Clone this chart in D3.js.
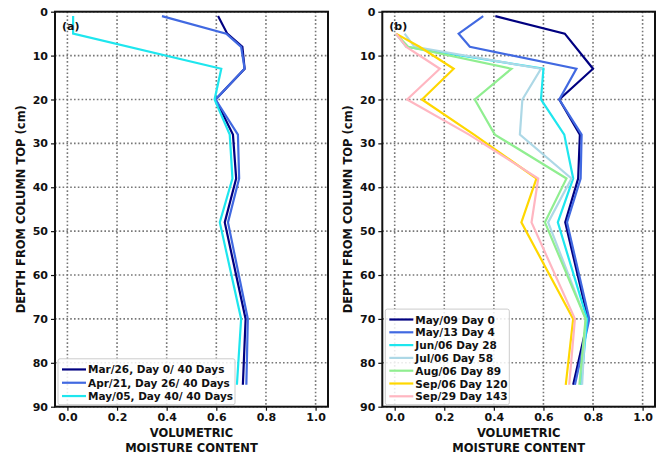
<!DOCTYPE html>
<html><head><meta charset="utf-8">
<script src="https://cdn.jsdelivr.net/npm/d3@7"></script>
<style>
body{margin:0;background:#fff}
text{font-family:"DejaVu Sans",sans-serif;font-weight:bold;fill:#111}
</style>
</head><body>
<svg id="c" width="662" height="456"></svg>
<script>
// ---------- data ----------
const xTicks = [0.0, 0.2, 0.4, 0.6, 0.8, 1.0];
const yTicks = [0, 10, 20, 30, 40, 50, 60, 70, 80, 90];

// Panel (a)
const aNames  = ["Mar/26, Day 0/ 40 Days", "Apr/21, Day 26/ 40 Days", "May/05, Day 40/ 40 Days"];
const aColors = ["#000080", "#4169e1", "#1ee6ee"];
const aDepth0 = [1, 5, 8, 13, 20, 28, 38, 48, 70, 85];
const aMoist0 = [0.607, 0.644, 0.705, 0.714, 0.597, 0.667, 0.680, 0.634, 0.718, 0.707];
const aDepth1 = [1, 5, 8, 13, 20, 28, 38, 48, 70, 85];
const aMoist1 = [0.381, 0.640, 0.700, 0.714, 0.597, 0.687, 0.692, 0.647, 0.727, 0.721];
const aDepth2 = [1, 5, 13, 20, 28, 38, 48, 70, 85];
const aMoist2 = [0.023, 0.023, 0.620, 0.593, 0.654, 0.665, 0.614, 0.700, 0.683];

// Panel (b)
const bNames  = ["May/09 Day 0", "May/13 Day 4", "Jun/06 Day 28", "Jul/06 Day 58", "Aug/06 Day 89", "Sep/06 Day 120", "Sep/29 Day 143"];
const bColors = ["#000080", "#4169e1", "#1ee6ee", "#add8e6", "#90ee90", "#ffd700", "#ffb6c1"];
const bDepth0 = [1, 5, 13, 20, 28, 38, 48, 70, 85];
const bMoist0 = [0.406, 0.686, 0.800, 0.664, 0.747, 0.740, 0.688, 0.780, 0.720];
const bDepth1 = [1, 5, 8, 13, 20, 28, 38, 48, 70, 85];
const bMoist1 = [0.357, 0.258, 0.303, 0.733, 0.664, 0.754, 0.750, 0.695, 0.785, 0.727];
const bDepth2 = [5, 8, 13, 20, 28, 38, 48, 70, 85];
const bMoist2 = [0.005, 0.047, 0.600, 0.590, 0.684, 0.720, 0.658, 0.776, 0.752];
const bDepth3 = [5, 8, 13, 20, 28, 38, 48, 70, 85];
const bMoist3 = [0.040, 0.080, 0.590, 0.515, 0.505, 0.713, 0.619, 0.770, 0.756];
const bDepth4 = [5, 8, 13, 20, 28, 38, 48, 70, 85];
const bMoist4 = [0.005, 0.054, 0.471, 0.323, 0.404, 0.693, 0.606, 0.770, 0.745];
const bDepth5 = [5, 8, 13, 20, 28, 38, 48, 70, 85];
const bMoist5 = [0.005, 0.100, 0.238, 0.110, 0.320, 0.572, 0.511, 0.720, 0.690];
const bDepth6 = [5, 8, 13, 20, 28, 38, 48, 70, 85];
const bMoist6 = [0.005, 0.047, 0.182, 0.050, 0.300, 0.579, 0.552, 0.727, 0.704];

const xDomain = [-0.05, 1.05];
const yDomain = [0, 90];

// ---------- drawing ----------
const svg = d3.select("#c");

function panel(opt) {
  const {left, right, top, bottom, tag, names, colors, depths, moists, ylabX, legW} = opt;
  const g = svg.append("g");
  const x = d3.scaleLinear().domain(xDomain).range([left, right]);
  const y = d3.scaleLinear().domain(yDomain).range([top, bottom]);

  // grid
  g.append("g").selectAll("line").data(xTicks).join("line")
    .attr("x1", d => x(d)).attr("x2", d => x(d)).attr("y1", top).attr("y2", bottom)
    .attr("stroke", "#777").attr("stroke-width", 1.6).attr("stroke-dasharray", "1.6,2.2");
  g.append("g").selectAll("line").data(yTicks).join("line")
    .attr("y1", d => y(d)).attr("y2", d => y(d)).attr("x1", left).attr("x2", right)
    .attr("stroke", "#777").attr("stroke-width", 1.6).attr("stroke-dasharray", "1.6,2.2");

  // lines
  const line = d3.line().x(d => x(d[1])).y(d => y(d[0]));
  depths.forEach((dep, i) => {
    const pts = dep.map((dd, j) => [dd, moists[i][j]]);
    g.append("path").attr("d", line(pts)).attr("fill", "none")
      .attr("stroke", colors[i]).attr("stroke-width", 2.2).attr("stroke-linejoin", "miter");
  });

  // axes
  const xa = g.append("g").attr("transform", `translate(0,${bottom})`)
    .call(d3.axisBottom(x).tickValues(xTicks).tickFormat(d3.format(".1f")).tickSize(4).tickPadding(3));
  const ya = g.append("g").attr("transform", `translate(${left},0)`)
    .call(d3.axisLeft(y).tickValues(yTicks).tickFormat(d3.format("d")).tickSize(4).tickPadding(3));
  [xa, ya].forEach(a => {
    a.select(".domain").remove();
    a.selectAll("line").attr("stroke", "#111").attr("stroke-width", 1.2);
    a.selectAll("text").style("font-size", "11px").style("font-family", "DejaVu Sans").style("font-weight", "bold").attr("fill", "#111");
  });

  // frame
  g.append("rect").attr("x", left).attr("y", top).attr("width", right - left).attr("height", bottom - top)
    .attr("fill", "none").attr("stroke", "#111").attr("stroke-width", 2);

  // panel tag
  g.append("text").attr("x", left + 7).attr("y", top + 18).style("font-size", "11px").text(tag);

  // axis labels
  const cx = (left + right) / 2;
  g.append("text").attr("x", cx).attr("y", 437).attr("text-anchor", "middle").style("font-size", "11.5px").text("VOLUMETRIC");
  g.append("text").attr("x", cx).attr("y", 451.5).attr("text-anchor", "middle").style("font-size", "11.5px").text("MOISTURE CONTENT");
  g.append("text").attr("transform", `translate(${ylabX},${(top + bottom) / 2}) rotate(-90)`)
    .attr("text-anchor", "middle").attr("dominant-baseline", "central").style("font-size", "11.5px")
    .text("DEPTH FROM COLUMN TOP (cm)");

  // legend
  const rowH = opt.rowH;
  const lb = bottom - 2;
  const lh = names.length * rowH + 6;
  const lx = left + 3;
  const ly = lb - lh;
  const lg = g.append("g");
  lg.append("rect").attr("x", lx).attr("y", ly).attr("width", legW).attr("height", lh).attr("rx", 2)
    .attr("fill", "#fff").attr("fill-opacity", 0.85).attr("stroke", "#ccc").attr("stroke-width", 1);
  names.forEach((n, i) => {
    const yy = ly + 4 + rowH * i + rowH / 2;
    lg.append("line").attr("x1", lx + 4).attr("x2", lx + 28).attr("y1", yy).attr("y2", yy)
      .attr("stroke", colors[i]).attr("stroke-width", 2.2);
    lg.append("text").attr("x", lx + 30).attr("y", yy).attr("dominant-baseline", "central")
      .style("font-size", "10.5px").text(n);
  });
}

panel({left: 55, right: 328, top: 11.7, bottom: 406.7, tag: "(a)",
  names: aNames, colors: aColors,
  depths: [aDepth0, aDepth1, aDepth2], moists: [aMoist0, aMoist1, aMoist2],
  ylabX: 21, legW: 177, rowH: 13.3});

panel({left: 382.3, right: 655, top: 11.7, bottom: 406.7, tag: "(b)",
  names: bNames, colors: bColors,
  depths: [bDepth0, bDepth1, bDepth2, bDepth3, bDepth4, bDepth5, bDepth6],
  moists: [bMoist0, bMoist1, bMoist2, bMoist3, bMoist4, bMoist5, bMoist6],
  ylabX: 348, legW: 124, rowH: 12.8});
</script>
</body></html>
